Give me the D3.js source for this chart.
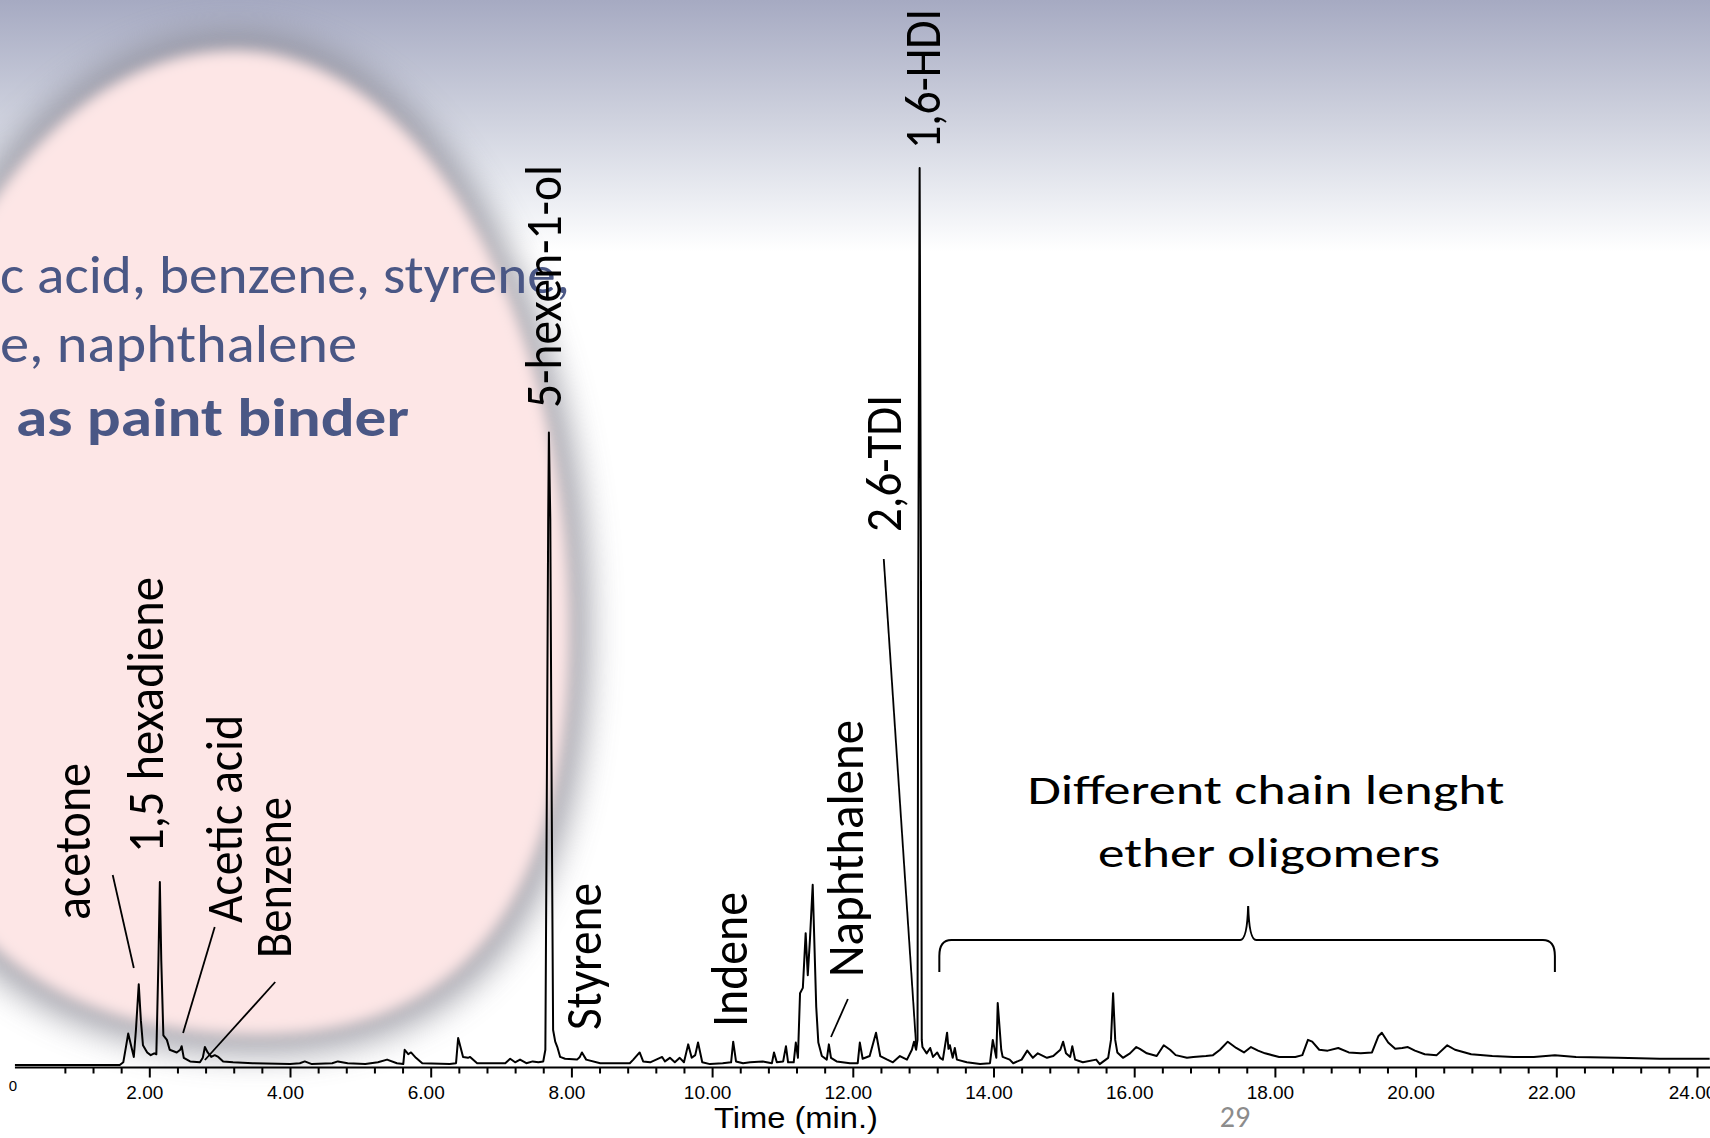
<!DOCTYPE html>
<html>
<head>
<meta charset="utf-8">
<script src="https://cdn.jsdelivr.net/npm/d3@7"></script>
<style>
  html, body { margin: 0; padding: 0; background: #ffffff; overflow: hidden; }
  svg { display: block; }
</style>
</head>
<body>
<svg id="chart" width="1710" height="1138"></svg>
<script>
// Pyrolysis GC-MS trace: retention time (min) of each sampled point
const traceTime = [
  0.09, 1.58, 1.63, 1.67, 1.70, 1.74, 1.78, 1.81, 1.85, 1.88, 1.91, 1.97, 2.02, 2.07, 2.10, 2.13, 2.15, 2.17, 2.20, 2.25,
  2.29, 2.39, 2.44, 2.46, 2.49, 2.58, 2.72, 2.76, 2.79, 2.83, 2.88, 2.93, 2.98, 3.05, 3.19, 3.47, 4.00, 4.14, 4.21, 4.31,
  4.60, 4.68, 4.82, 5.07, 5.25, 5.38, 5.52, 5.61, 5.63, 5.68, 5.72, 5.79, 5.88, 6.27, 6.36, 6.39, 6.46, 6.53, 6.56, 6.66,
  7.06, 7.13, 7.20, 7.27, 7.36, 7.45, 7.53, 7.60, 7.63, 7.65, 7.67, 7.68, 7.70, 7.72, 7.74, 7.77, 7.80, 7.84, 7.91, 8.08,
  8.12, 8.15, 8.21, 8.41, 8.83, 8.88, 8.97, 9.02, 9.12, 9.29, 9.33, 9.40, 9.47, 9.54, 9.60, 9.66, 9.71, 9.76, 9.80, 9.86,
  9.97, 10.15, 10.27, 10.30, 10.34, 10.44, 10.54, 10.72, 10.85, 10.88, 10.92, 11.01, 11.05, 11.08, 11.16, 11.19, 11.22, 11.25, 11.29, 11.33,
  11.36, 11.39, 11.43, 11.48, 11.51, 11.56, 11.63, 11.66, 11.69, 11.77, 11.96, 12.07, 12.10, 12.14, 12.24, 12.33, 12.39, 12.49, 12.57, 12.67,
  12.77, 12.84, 12.87, 12.90, 12.92, 12.93, 12.95, 12.97, 12.98, 12.99, 13.05, 13.10, 13.14, 13.20, 13.24, 13.28, 13.34, 13.36, 13.38, 13.42,
  13.45, 13.48, 13.62, 13.81, 13.95, 13.99, 14.04, 14.06, 14.11, 14.13, 14.23, 14.28, 14.40, 14.48, 14.56, 14.63, 14.76, 14.85, 14.95, 14.99,
  15.03, 15.09, 15.12, 15.16, 15.27, 15.46, 15.51, 15.63, 15.67, 15.70, 15.73, 15.76, 15.84, 15.94, 16.03, 16.08, 16.18, 16.32, 16.42, 16.51,
  16.59, 16.75, 16.84, 17.02, 17.12, 17.22, 17.33, 17.45, 17.56, 17.66, 17.76, 17.86, 18.06, 18.29, 18.39, 18.47, 18.53, 18.63, 18.75, 18.90,
  19.05, 19.22, 19.38, 19.47, 19.52, 19.61, 19.71, 19.81, 19.89, 19.99, 20.13, 20.30, 20.45, 20.56, 20.79, 21.09, 21.39, 21.68, 21.98, 22.28,
  22.88, 23.47, 24.18
];

// Relative abundance (% of the 1,6-HDI peak) at each retention time
const traceAbundance = [
  0.0, 0.0, 0.3, 2.1, 3.5, 2.2, 0.9, 3.9, 9.0, 5.0, 2.2, 1.4, 1.1, 1.3, 1.2, 11.7, 20.4, 11.7, 3.3, 2.8,
  1.7, 1.4, 1.7, 2.1, 0.8, 0.4, 0.3, 0.8, 2.0, 1.4, 0.9, 1.1, 0.9, 0.4, 0.3, 0.2, 0.1, 0.2, 0.4, 0.1,
  0.2, 0.4, 0.2, 0.1, 0.3, 0.6, 0.2, 0.1, 1.7, 1.2, 1.4, 0.8, 0.2, 0.1, 0.2, 3.0, 0.9, 0.8, 0.9, 0.2,
  0.2, 0.7, 0.3, 0.6, 0.2, 0.4, 0.3, 0.4, 1.7, 29.5, 60.8, 70.5, 60.8, 29.5, 3.9, 2.6, 2.0, 0.9, 0.7, 0.6,
  0.9, 1.4, 0.6, 0.2, 0.2, 0.6, 1.4, 0.4, 0.3, 0.9, 0.4, 0.8, 0.3, 0.8, 0.3, 2.3, 0.8, 1.1, 2.5, 0.3,
  0.1, 0.2, 0.3, 2.6, 0.4, 0.2, 0.3, 0.4, 0.2, 1.4, 0.3, 0.4, 2.1, 0.3, 0.3, 2.5, 0.8, 8.0, 8.6, 14.7,
  10.0, 13.9, 20.1, 6.5, 2.5, 1.0, 0.6, 2.3, 0.8, 0.4, 0.2, 0.2, 2.5, 0.7, 1.0, 3.6, 1.0, 0.6, 0.3, 1.0,
  0.6, 1.7, 2.6, 1.7, 2.8, 51.8, 100.0, 51.8, 2.8, 2.0, 1.3, 1.9, 0.9, 1.4, 0.8, 0.6, 3.6, 1.8, 2.2, 0.8,
  1.9, 0.6, 0.3, 0.1, 0.2, 2.8, 0.8, 6.9, 1.7, 0.9, 0.6, 0.2, 0.6, 1.6, 0.8, 1.3, 0.8, 1.0, 1.7, 2.6,
  1.3, 0.9, 2.1, 0.6, 0.3, 0.6, 0.1, 0.8, 2.8, 8.0, 2.8, 1.4, 0.8, 1.3, 2.0, 1.8, 1.3, 1.0, 2.2, 1.7,
  1.1, 0.8, 0.9, 1.0, 1.1, 1.7, 2.6, 1.9, 1.4, 2.0, 1.6, 1.3, 0.9, 0.9, 1.1, 2.8, 2.6, 1.7, 1.6, 1.9,
  1.4, 1.3, 1.4, 3.2, 3.6, 2.5, 1.8, 1.9, 2.0, 1.6, 1.2, 1.1, 2.2, 1.7, 1.2, 1.0, 0.9, 0.9, 1.1, 0.9,
  0.8, 0.7, 0.7
];

// Time axis
const majorTicks = [2, 4, 6, 8, 10, 12, 14, 16, 18, 20, 22, 24];
const tickLabels = ["2.00", "4.00", "6.00", "8.00", "10.00", "12.00", "14.00", "16.00", "18.00", "20.00", "22.00", "24.00"];

// Identified pyrolysis products and where their labels sit along the time axis (min)
const compoundNames = ["acetone", "1,5 hexadiene", "Acetic acid", "Benzene", "5-hexen-1-ol",
                       "Styrene", "Indene", "Naphthalene", "2,6-TDI", "1,6-HDI"];
const compoundLabelTime = [1.15, 2.195, 3.32, 4.015, 7.855, 8.42, 10.495, 12.145, 12.685, 13.24];

// Summary text on the slide
const summaryLines = ["c acid, benzene, styrene,", "e, naphthalene", "as paint binder"];
const oligomerLines = ["Different chain lenght", "ether oligomers"];

// ---------------------------------------------------------------
const W = 1710, H = 1138;
const svg = d3.select("#chart");
const defs = svg.append("defs");

const x = d3.scaleLinear().domain([0, 24]).range([8.6, 1697]);
const y = d3.scaleLinear().domain([0, 100]).range([1065, 168]);

const calibriLike = "Carlito, Calibri, Lato, 'Open Sans', sans-serif";
const arialLike = "'Liberation Sans', Arial, Helvetica, sans-serif";

// Slide background: blue-grey band fading to white
const sky = defs.append("linearGradient").attr("id", "sky")
  .attr("x1", 0).attr("y1", 0).attr("x2", 0).attr("y2", 1);
[[0, "#a6aac2"], [0.45, "#cdd0dd"], [0.8, "#eceef3"], [1, "#ffffff"]].forEach(([o, c]) =>
  sky.append("stop").attr("offset", o).attr("stop-color", c));
svg.append("rect").attr("x", 0).attr("y", 0).attr("width", W).attr("height", 252).attr("fill", "url(#sky)");

// Soft pink highlight oval with a blurred grey shadow
const blurWide = defs.append("filter").attr("id", "blurWide")
  .attr("x", "-20%").attr("y", "-20%").attr("width", "140%").attr("height", "140%");
blurWide.append("feGaussianBlur").attr("stdDeviation", 16);
const blurSoft = defs.append("filter").attr("id", "blurSoft")
  .attr("x", "-20%").attr("y", "-20%").attr("width", "140%").attr("height", "140%");
blurSoft.append("feGaussianBlur").attr("stdDeviation", 7);

function ovalPath(inset) {
  const T = [235, 40 + inset], R = [580 - inset, 630], B = [260, 1045 - inset], L = [-130 + inset, 610];
  const kTop = 0.55, kBot = 0.66;
  const p = d3.path();
  p.moveTo(T[0], T[1]);
  p.bezierCurveTo(T[0] + kTop * (R[0] - T[0]), T[1], R[0], R[1] - kTop * (R[1] - T[1]), R[0], R[1]);
  p.bezierCurveTo(R[0], R[1] + kBot * (B[1] - R[1]), B[0] + kBot * (R[0] - B[0]), B[1], B[0], B[1]);
  p.bezierCurveTo(B[0] - kBot * (B[0] - L[0]), B[1], L[0], L[1] + kBot * (B[1] - L[1]), L[0], L[1]);
  p.bezierCurveTo(L[0], L[1] - kTop * (L[1] - T[1]), T[0] - kTop * (T[0] - L[0]), T[1], T[0], T[1]);
  p.closePath();
  return p.toString();
}
svg.append("path").attr("d", ovalPath(-10))
  .attr("fill", "#8b8b96").attr("opacity", 0.75).attr("filter", "url(#blurWide)");
svg.append("path").attr("d", ovalPath(10))
  .attr("fill", "#fde6e6").attr("filter", "url(#blurSoft)");

// Slide text in the highlight
const summaryLayout = [
  { x: 0, y: 293, len: 570, weight: 400 },
  { x: 0, y: 362, len: 357, weight: 400 },
  { x: 16, y: 436, len: 393, weight: 700 }
];
svg.append("g").selectAll("text").data(summaryLines).join("text")
  .attr("x", (d, i) => summaryLayout[i].x)
  .attr("y", (d, i) => summaryLayout[i].y)
  .attr("textLength", (d, i) => summaryLayout[i].len)
  .attr("lengthAdjust", "spacingAndGlyphs")
  .attr("font-family", calibriLike)
  .attr("font-size", 54)
  .attr("font-weight", (d, i) => summaryLayout[i].weight)
  .attr("fill", "#4a5785")
  .text(d => d);

// ---------------- Chromatogram ----------------
const axisY = 1067.5;
const chart = svg.append("g");

// Minor ticks every 0.4 min, major ticks every 2 min
const minorTicks = d3.range(0.8, 24.01, 0.4).filter(t => Math.abs(t / 2 - Math.round(t / 2)) > 1e-6);

const minorAxis = chart.append("g").attr("transform", `translate(0,${axisY})`)
  .call(d3.axisBottom(x).tickValues(minorTicks).tickSize(6).tickFormat(""));
minorAxis.select(".domain").remove();
minorAxis.selectAll("line").attr("stroke", "#000").attr("stroke-width", 2);

const majorAxis = chart.append("g").attr("transform", `translate(0,${axisY})`)
  .call(d3.axisBottom(x).tickValues(majorTicks).tickSize(10).tickPadding(8)
    .tickFormat((d, i) => tickLabels[i]));
majorAxis.select(".domain").remove();
majorAxis.selectAll("line").attr("stroke", "#000").attr("stroke-width", 2);
majorAxis.selectAll("text")
  .attr("x", -5)
  .attr("font-family", arialLike)
  .attr("font-size", 19)
  .attr("fill", "#000");

chart.append("line")
  .attr("x1", x(0.09)).attr("x2", W)
  .attr("y1", axisY).attr("y2", axisY)
  .attr("stroke", "#000").attr("stroke-width", 2.2);

chart.append("text")
  .attr("x", 13).attr("y", 1091)
  .attr("text-anchor", "middle")
  .attr("font-family", arialLike).attr("font-size", 15)
  .text("0");

chart.append("text")
  .attr("x", 796).attr("y", 1128)
  .attr("text-anchor", "middle")
  .attr("textLength", 164).attr("lengthAdjust", "spacingAndGlyphs")
  .attr("font-family", arialLike).attr("font-size", 29)
  .text("Time (min.)");

// Trace
const trace = d3.zip(traceTime, traceAbundance);
chart.append("path")
  .datum(trace)
  .attr("fill", "none")
  .attr("stroke", "#000")
  .attr("stroke-width", 2)
  .attr("stroke-linejoin", "round")
  .attr("d", d3.line().x(d => x(d[0])).y(d => y(d[1])));

// Compound labels, written bottom-to-top
const labelLayout = [
  { bottom: 920, len: 157 },
  { bottom: 853, len: 276 },
  { bottom: 923, len: 208 },
  { bottom: 958, len: 161 },
  { bottom: 408, len: 243 },
  { bottom: 1030, len: 147 },
  { bottom: 1027, len: 135 },
  { bottom: 977, len: 257 },
  { bottom: 532, len: 137 },
  { bottom: 149, len: 140 }
];
chart.append("g").selectAll("text").data(compoundNames).join("text")
  .attr("transform", (d, i) => `translate(${x(compoundLabelTime[i])},${labelLayout[i].bottom}) rotate(-90)`)
  .attr("textLength", (d, i) => labelLayout[i].len)
  .attr("lengthAdjust", "spacingAndGlyphs")
  .attr("font-family", calibriLike)
  .attr("font-size", 52)
  .attr("fill", "#000")
  .text(d => d);

// Leader lines from labels down to their peaks: [t1, y1, t2, y2]
const leaders = [
  [1.48, 875, 1.78, 968],
  [2.93, 927, 2.48, 1033],
  [3.79, 982, 2.79, 1060],
  [11.93, 999, 11.69, 1037],
  [12.44, 559, 12.90, 1045]
];
chart.append("g").selectAll("line").data(leaders).join("line")
  .attr("x1", d => x(d[0])).attr("y1", d => d[1])
  .attr("x2", d => x(d[2])).attr("y2", d => d[3])
  .attr("stroke", "#000").attr("stroke-width", 1.8);

// Brace spanning the oligomer region
const bl = x(13.23), br = x(21.98), bm = x(17.62);
const bBottom = 972, bBar = 940, bTip = 906;
const brace = d3.path();
brace.moveTo(bl, bBottom);
brace.lineTo(bl, bBar + 16);
brace.quadraticCurveTo(bl, bBar, bl + 12, bBar);
brace.lineTo(bm - 8, bBar);
brace.quadraticCurveTo(bm - 1, bBar, bm, bTip);
brace.quadraticCurveTo(bm + 1, bBar, bm + 8, bBar);
brace.lineTo(br - 12, bBar);
brace.quadraticCurveTo(br, bBar, br, bBar + 16);
brace.lineTo(br, bBottom);
chart.append("path").attr("d", brace.toString())
  .attr("fill", "none").attr("stroke", "#000").attr("stroke-width", 2);

const oligoLayout = [{ cx: 1266, y: 804, len: 477 }, { cx: 1269, y: 867, len: 342 }];
chart.append("g").selectAll("text").data(oligomerLines).join("text")
  .attr("x", (d, i) => oligoLayout[i].cx)
  .attr("y", (d, i) => oligoLayout[i].y)
  .attr("text-anchor", "middle")
  .attr("textLength", (d, i) => oligoLayout[i].len)
  .attr("lengthAdjust", "spacingAndGlyphs")
  .attr("font-family", calibriLike)
  .attr("font-size", 42)
  .attr("fill", "#000")
  .text(d => d);

// Slide number
svg.append("text")
  .attr("x", 1235).attr("y", 1127)
  .attr("text-anchor", "middle")
  .attr("font-family", calibriLike).attr("font-size", 30)
  .attr("fill", "#8c8c8c")
  .text("29");
</script>
</body>
</html>
